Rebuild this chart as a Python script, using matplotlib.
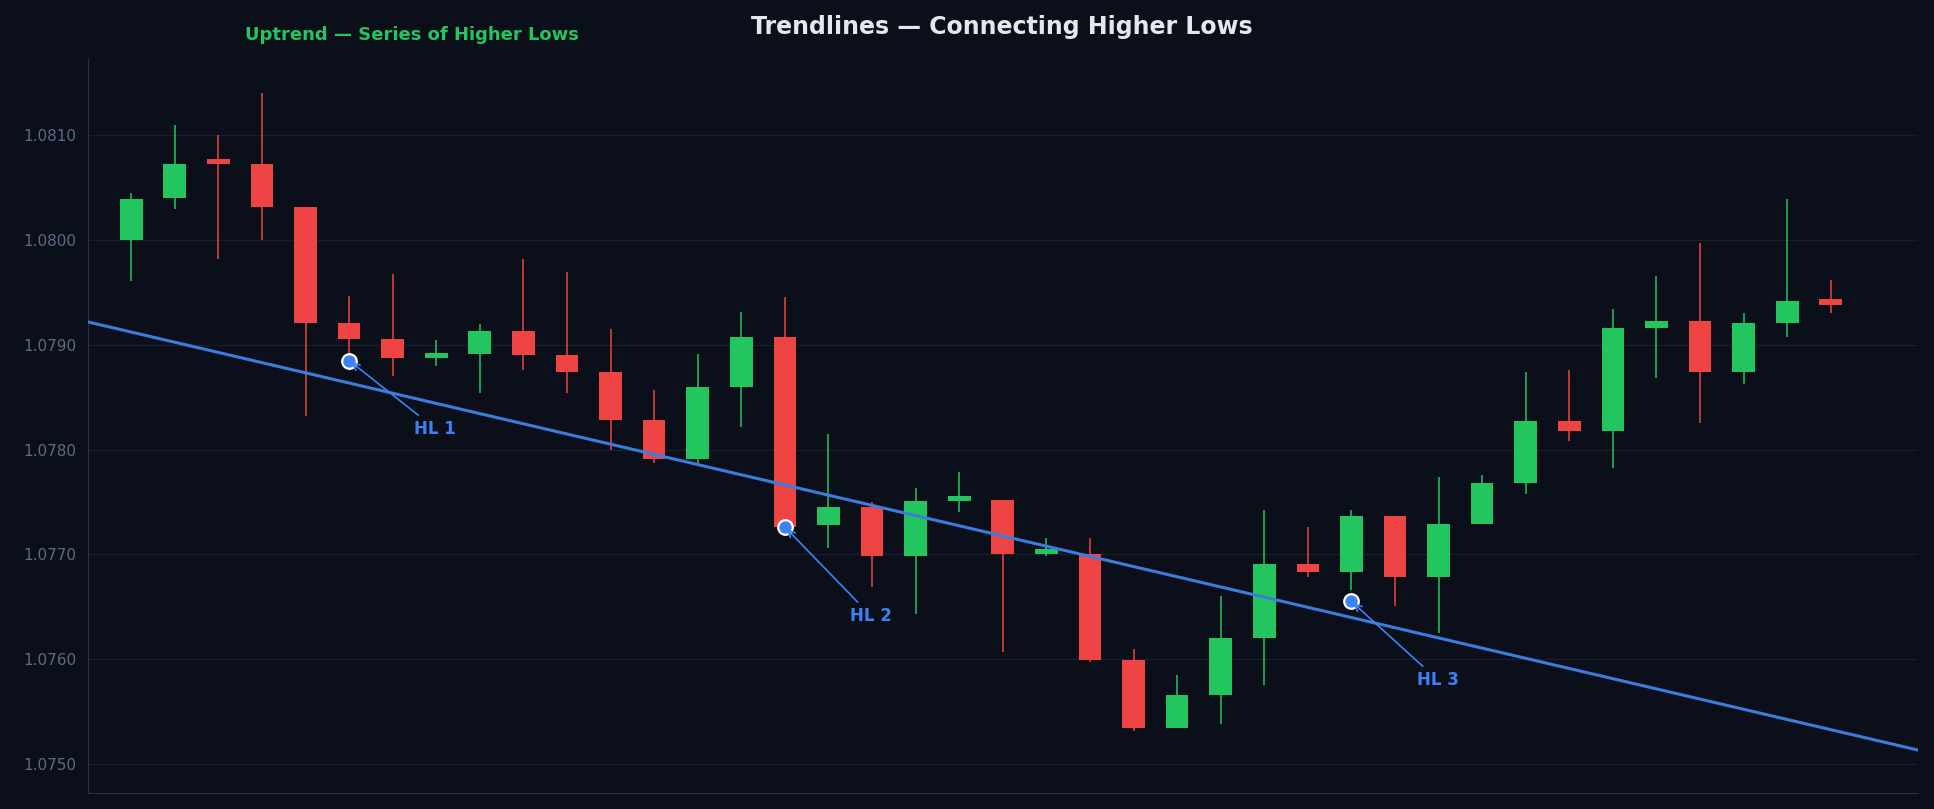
import matplotlib
matplotlib.use("Agg")
import matplotlib.pyplot as plt
import numpy as np

opens  = [1.0800,1.0804,1.08078,1.08073,1.08032,1.07921,1.07906,1.07887,1.07891,1.07913,
          1.0789,1.07874,1.07828,1.07791,1.0786,1.07908,1.07728,1.07745,1.07698,1.07751,
          1.07752,1.0770,1.0770,1.07599,1.07534,1.07566,1.0762,1.07691,1.07683,1.07737,
          1.07678,1.07729,1.07768,1.07827,1.07818,1.07916,1.07923,1.07874,1.07921,1.07944]
closes = [1.08039,1.08073,1.08073,1.08032,1.07921,1.07906,1.07887,1.07892,1.07913,1.0789,
          1.07874,1.07828,1.07791,1.0786,1.07908,1.07726,1.07745,1.07698,1.07751,1.07756,
          1.0770,1.07705,1.07599,1.07534,1.07566,1.0762,1.07691,1.07683,1.07737,1.07678,
          1.07729,1.07768,1.07827,1.07818,1.07916,1.07923,1.07874,1.07921,1.07942,1.07938]
highs  = [1.08045,1.0811,1.0810,1.08141,1.08032,1.07947,1.07968,1.07905,1.0792,1.07982,
          1.0797,1.07915,1.07857,1.07891,1.07931,1.07946,1.07815,1.07750,1.07763,1.07779,
          1.07752,1.07716,1.07716,1.0761,1.07585,1.0766,1.07742,1.07726,1.07742,1.07737,
          1.07774,1.07776,1.07874,1.07876,1.07934,1.07966,1.07997,1.07930,1.08039,1.07962]
lows   = [1.07961,1.0803,1.07982,1.0800,1.07832,1.07876,1.07870,1.07880,1.07854,1.07876,
          1.07854,1.0780,1.07787,1.07785,1.07822,1.07723,1.07706,1.07669,1.07643,1.07740,
          1.07607,1.07698,1.07597,1.07531,1.07534,1.07538,1.07575,1.07678,1.07666,1.07651,
          1.07625,1.07729,1.07758,1.07808,1.07782,1.07868,1.07825,1.07863,1.07908,1.07930]
hl_idx = [5, 15, 28]
hl_price = [1.07885, 1.07726, 1.07655]
hl_labels = ["HL 1", "HL 2", "HL 3"]
trend_x = [-1, 41]
trend_y = [1.07922, 1.07513]

BG = "#0b0f19"
GREEN = "#22c55e"; RED = "#ef4444"; BLUE = "#3b82f6"

fig = plt.figure(figsize=(19.34, 8.09), dpi=100, facecolor=BG)
ax = fig.add_axes([0.0453, 0.0198, 0.9464, 0.9072], facecolor=BG)
for i, (o, c, h, l) in enumerate(zip(opens, closes, highs, lows)):
    col = GREEN if c >= o else RED
    ax.vlines(i, l, h, color=col, lw=1.1, zorder=2)
    ax.bar(i, max(abs(c - o), 0.000006), bottom=min(o, c), width=0.52, color=col, zorder=2)
ax.plot(trend_x, trend_y, color="#3b7ddd", lw=2.2, zorder=3)
offs = [(1.5, -0.00065), (1.5, -0.00085), (1.5, -0.00075)]
for i, p, t, (dx, dy) in zip(hl_idx, hl_price, hl_labels, offs):
    ax.scatter(i, p, s=110, color=BLUE, edgecolor="white", linewidth=1.6, zorder=5)
    ax.annotate(t, xy=(i, p), xytext=(i + dx, p + dy), color=BLUE, fontsize=12,
                fontweight="bold", ha="left", va="center",
                arrowprops=dict(arrowstyle="->", color=BLUE, lw=1.2), zorder=6)
ax.set_xlim(-1, 41)
ax.set_ylim(1.07472, 1.08173)
ax.set_yticks([1.0750, 1.0760, 1.0770, 1.0780, 1.0790, 1.0800, 1.0810])
ax.yaxis.set_major_formatter(matplotlib.ticker.FormatStrFormatter("%.4f"))
ax.set_xticks([])
ax.tick_params(axis="y", colors="#5c6b85", labelsize=11, length=0, pad=8)
ax.grid(axis="y", color="#1c2333", lw=0.9, zorder=4, alpha=0.8)
for s in ["top", "right"]:
    ax.spines[s].set_visible(False)
for s in ["left", "bottom"]:
    ax.spines[s].set_color("#2a3142")
fig.text(0.518, 0.967, "Trendlines — Connecting Higher Lows", color="#e5e7eb",
         fontsize=17, fontweight="bold", ha="center", va="center")
fig.text(0.213, 0.957, "Uptrend — Series of Higher Lows", color=GREEN,
         fontsize=13, fontweight="bold", ha="center", va="center")
fig.savefig("out.png", dpi=100, facecolor=BG)
